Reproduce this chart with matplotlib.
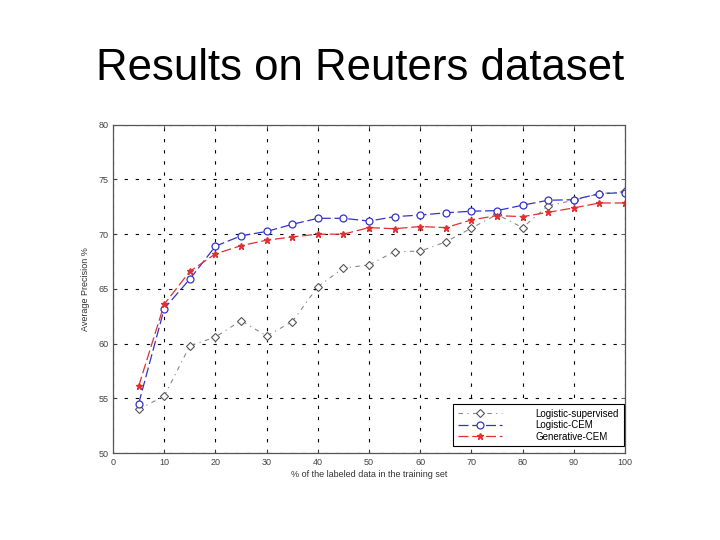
import matplotlib
matplotlib.use("Agg")
import matplotlib.pyplot as plt

plt.rcParams['font.family'] = ['Liberation Sans', 'DejaVu Sans']

x_pct = [5, 10, 15, 20, 25, 30, 35, 40, 45, 50, 55, 60, 65, 70, 75, 80, 85, 90, 95, 100]
logistic_supervised = [54.0, 55.2, 59.8, 60.6, 62.1, 60.7, 62.0, 65.2, 66.9, 67.2,
                       68.4, 68.45, 69.3, 70.55, 71.8, 70.6, 72.6, 73.1, 73.7, 73.9]
logistic_cem = [54.5, 63.2, 65.9, 68.9, 69.85, 70.25, 70.9, 71.45, 71.45, 71.2,
                71.6, 71.75, 71.95, 72.1, 72.15, 72.65, 73.1, 73.15, 73.7, 73.8]
generative_cem = [56.1, 63.6, 66.6, 68.2, 68.95, 69.45, 69.75, 70.0, 70.0, 70.6,
                  70.5, 70.7, 70.6, 71.3, 71.7, 71.6, 72.0, 72.4, 72.85, 72.85]

title = "Results on Reuters dataset"
xlabel = "% of the labeled data in the training set"
ylabel = "Average Precision %"
series_names = ["Logistic-supervised", "Logistic-CEM", "Generative-CEM"]
xticks = list(range(0, 101, 10))
yticks = list(range(50, 81, 5))

fig = plt.figure(figsize=(7.2, 5.4), dpi=100)
fig.patch.set_facecolor('white')
fig.text(0.5, 0.873, title, ha='center', va='center', fontsize=31.5, color='black')

ax = fig.add_axes([0.157, 0.161, 0.711, 0.608])
ax.plot(x_pct, logistic_supervised, color='#888888', linestyle=(0, (4, 4, 1, 4)), linewidth=0.8,
        marker='D', markersize=4.5, markerfacecolor='white', markeredgecolor='#555555',
        markeredgewidth=0.8, label=series_names[0])
ax.plot(x_pct, logistic_cem, color='#3333cc', linestyle=(0, (8, 3)), linewidth=0.9,
        marker='o', markersize=5, markerfacecolor='white', markeredgecolor='#3333cc',
        markeredgewidth=0.9, label=series_names[1])
ax.plot(x_pct, generative_cem, color='#e03030', linestyle=(0, (8, 3)), linewidth=0.9,
        marker='*', markersize=5, markerfacecolor='#e03030', markeredgecolor='#e03030',
        label=series_names[2])

ax.set_xlim(0, 100)
ax.set_ylim(50, 80)
ax.set_xticks(xticks)
ax.set_yticks(yticks)
ax.tick_params(direction='in', labelsize=6.5, length=3, width=0.6, colors='#444444',
               top=True, right=True)
ax.grid(True, color='black', linestyle=(0, (3, 7)), linewidth=0.8)
for s in ax.spines.values():
    s.set_color('#555555')
    s.set_linewidth(0.9)
ax.set_xlabel(xlabel, fontsize=6.5, color='#333333', labelpad=2)
ax.set_ylabel(ylabel, fontsize=6.5, color='#333333', labelpad=6)

leg = ax.legend(loc='lower right', bbox_to_anchor=(0.998, 0.02), fontsize=7, frameon=True,
                fancybox=False, edgecolor='black', framealpha=1, borderaxespad=0,
                handlelength=4.5, labelspacing=0.15, handletextpad=3.5, borderpad=0.5)
leg.get_frame().set_linewidth(0.8)

fig.savefig('out.png', dpi=100, facecolor='white')
